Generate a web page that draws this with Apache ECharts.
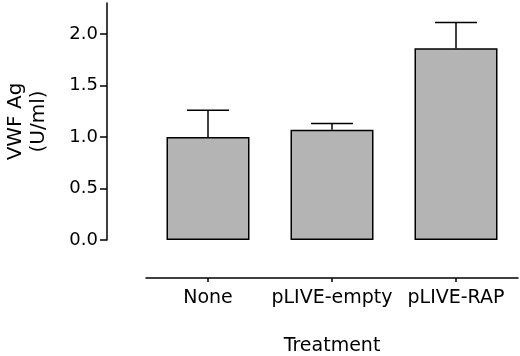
<!DOCTYPE html>
<html>
<head>
<meta charset="utf-8">
<script src="https://cdn.jsdelivr.net/npm/echarts@6/dist/echarts.min.js"></script>
<style>
html, body { margin: 0; padding: 0; background: #fff; }
#chart { width: 520px; height: 356px; }
</style>
</head>
<body>
<div id="chart"></div>
<script>
var categories = ['None', 'pLIVE-empty', 'pLIVE-RAP'];
var means = [1.00, 1.07, 1.86];
var errTops = [1.26, 1.13, 2.11];
var yTicks = [0, 0.5, 1.0, 1.5, 2.0];

var font = 'DejaVu Sans, sans-serif';

var errData = [];
for (var i = 0; i < categories.length; i++) {
    errData.push([i, means[i], errTops[i]]);
}

function renderErr(params, api) {
    var base = api.coord([api.value(0), api.value(1)]);
    var top = api.coord([api.value(0), api.value(2)]);
    var half = 21;
    var style = { stroke: '#000', lineWidth: 1.5 };
    return {
        type: 'group',
        children: [
            { type: 'line', shape: { x1: base[0], y1: base[1], x2: top[0], y2: top[1] }, style: style },
            { type: 'line', shape: { x1: top[0] - half, y1: top[1], x2: top[0] + half, y2: top[1] }, style: style }
        ]
    };
}

var myChart = echarts.init(document.getElementById('chart'));
var option = {
    backgroundColor: '#fff',
    animation: false,
    grid: { left: 146, right: 2, top: 3, bottom: 116, outerBoundsMode: 'none', containLabel: false },
    xAxis: {
        type: 'category',
        data: categories,
        offset: 38,
        axisLine: { onZero: false, lineStyle: { color: '#000', width: 1.5 } },
        axisTick: { show: true, alignWithLabel: true, length: 4, lineStyle: { color: '#000', width: 1.5 } },
        axisLabel: { color: '#000', fontSize: 19, fontFamily: font, margin: 11, interval: 0 },
        name: 'Treatment',
        nameLocation: 'middle',
        nameGap: 59,
        nameTextStyle: { color: '#000', fontSize: 19, fontFamily: font }
    },
    yAxis: {
        type: 'value',
        min: 0,
        max: 2.3,
        interval: 0.5,
        offset: 39,
        axisLine: { show: true, lineStyle: { color: '#000', width: 1.5 } },
        axisTick: { show: true, length: 7, lineStyle: { color: '#000', width: 1.5 } },
        splitLine: { show: false },
        axisLabel: {
            color: '#000', fontSize: 18, fontFamily: font, margin: 9,
            showMaxLabel: false,
            formatter: function (v) { return yTicks.indexOf(v) >= 0 ? v.toFixed(1) : ''; }
        },
        name: 'VWF Ag\n(U/ml)',
        nameLocation: 'middle',
        nameRotate: 90,
        nameGap: 57,
        nameTextStyle: { color: '#000', fontSize: 20, fontFamily: font, lineHeight: 23 }
    },
    series: [
        {
            type: 'bar',
            data: means,
            barWidth: 83,
            itemStyle: { color: '#b4b4b4', borderColor: '#000', borderWidth: 1.5 }
        },
        {
            type: 'custom',
            data: errData,
            renderItem: renderErr,
            z: 1
        }
    ]
};
myChart.setOption(option);
</script>
</body>
</html>
